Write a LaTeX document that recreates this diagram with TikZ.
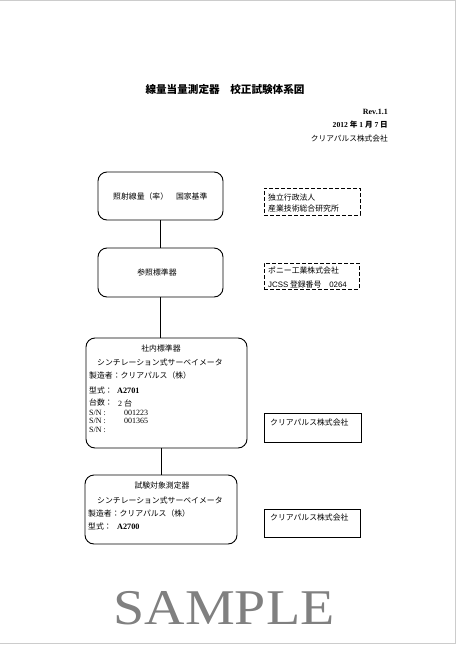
\documentclass[tikz,border=0pt]{standalone}
\usepackage{fontspec}
\setmainfont{Liberation Serif}
\newfontfamily\jp{Noto Sans CJK JP}
\begin{document}
\begin{tikzpicture}[x=1pt,y=-1pt,
  rbox/.style={draw, rounded corners=9pt, line width=0.9pt, inner sep=0pt},
  dbox/.style={draw, dash pattern=on 4pt off 2pt, line width=0.9pt, inner sep=0pt},
  sbox/.style={draw, line width=0.9pt, inner sep=0pt},
  jt/.style={font=\jp\fontsize{7.85}{9}\selectfont, inner sep=0pt, anchor=west},
  jc/.style={font=\jp\fontsize{7.85}{9}\selectfont, inner sep=0pt},
  lt/.style={font=\fontsize{8}{9}\selectfont, inner sep=0pt, anchor=west},
  ltb/.style={font=\bfseries\fontsize{8.2}{9}\selectfont, inner sep=0pt, anchor=west},
  hr/.style={inner sep=0pt, anchor=east},
  conn/.style={line width=0.9pt}]
\useasboundingbox (0,0) rectangle (456,645);
% page edge
\draw[gray!40, line width=1.5pt] (0,0.5) -- (455.3,0.5) -- (455.3,643.5) -- (0,643.5);

% header
\node[inner sep=0pt, font=\jp\bfseries\fontsize{10.6}{12}\selectfont] (title) at (225,89) {線量当量測定器　校正試験体系図};
\node[hr, font=\bfseries\fontsize{8}{9}\selectfont] (rev) at (388,112) {Rev.1.1};
\node[hr, font=\bfseries\fontsize{7.6}{9}\selectfont] (date) at (388,125) {2012 {\jp 年} 1 {\jp 月} 7 {\jp 日}};
\node[hr, font=\jp\fontsize{7.7}{9}\selectfont] (comp) at (388,138.5) {クリアパルス株式会社};

% left boxes
\node[rbox, minimum width=125pt, minimum height=48pt] (b1) at (160.5,196) {};
\node[rbox, minimum width=125pt, minimum height=49pt] (b2) at (160.5,272.5) {};
\node[rbox, minimum width=161pt, minimum height=110pt] (b3) at (166.5,393) {};
\node[rbox, minimum width=152pt, minimum height=69pt] (b5) at (161,509.5) {};

\draw[conn] (b1.south) -- (b2.north);
\draw[conn] (b2.south) -- (b2.south |- b3.north);
\draw[conn] (b5.north |- b3.south) -- (b5.north);

% right boxes
\node[dbox, minimum width=96pt, minimum height=27pt] (d1) at (312,201.5) {};
\node[dbox, minimum width=95pt, minimum height=26pt] (d2) at (311.5,276) {};
\node[sbox, minimum width=97pt, minimum height=29pt] (s3) at (312.5,427.5) {};
\node[sbox, minimum width=96pt, minimum height=28pt] (s5) at (312,523) {};

% box 1 text
\node[jt] (t1) at (113,197) {照射線量（率）　国家基準};
% box 2 text
\node[jc] (t2) at (157,273) {参照標準器};
% box 3 text
\node[jc] (t3a) at (161,349) {社内標準器};
\node[jt] (t3b) at (97,363) {シンチレーション式サーベイメータ};
\node[jt] (t3c) at (89,376) {製造者：クリアパルス（株）};
\node[jt] (t3d) at (89,391) {型式：};
\node[ltb] (t3d2) at (117,391) {A2701};
\node[jt] (t3e) at (89,403) {台数：};
\node[lt] (t3e2) at (118,403) {2 {\jp 台}};
\node[lt] (t3f) at (89,412.5) {S/N :};
\node[lt] (t3f2) at (124,412.5) {001223};
\node[lt] (t3g) at (89,421) {S/N :};
\node[lt] (t3g2) at (124,421) {001365};
\node[lt] (t3h) at (89,429.5) {S/N :};
% box 5 text
\node[jc] (t5a) at (162,486) {試験対象測定器};
\node[jt] (t5b) at (97,501) {シンチレーション式サーベイメータ};
\node[jt] (t5c) at (88,514) {製造者：クリアパルス（株）};
\node[jt] (t5d) at (88,527) {型式：};
\node[ltb] (t5d2) at (117,527) {A2700};

% right box texts
\node[jt] (r1a) at (268,198) {独立行政法人};
\node[jt] (r1b) at (268,208.5) {産業技術総合研究所};
\node[jt] (r2a) at (268,270) {ポニー工業株式会社};
\node[jt] (r2b) at (268,284.5) {{\fontspec{Liberation Sans}JCSS} 登録番号　{\fontspec{Liberation Sans}0264}};
\node[jt] (r3) at (270,423) {クリアパルス株式会社};
\node[jt] (r5) at (270,518) {クリアパルス株式会社};

% watermark
\node[inner sep=0pt, text=black!50, font=\fontsize{50}{50}\selectfont, xscale=1.12] (wm) at (224,608) {SAMPLE};
\end{tikzpicture}
\end{document}
